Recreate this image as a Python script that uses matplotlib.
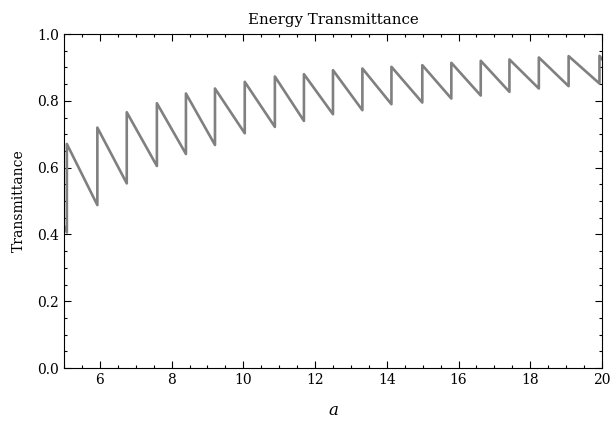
import matplotlib
matplotlib.use('Agg')
import matplotlib.pyplot as plt
from matplotlib.ticker import MultipleLocator

# values: each tooth falls to a trough, then jumps to a peak
jump_a = [5.08, 5.93, 6.75, 7.59, 8.40, 9.21, 10.04, 10.88, 11.69, 12.50,
          13.32, 14.13, 14.99, 15.80, 16.62, 17.42, 18.24, 19.07, 19.93]
trough_t = [0.406, 0.488, 0.553, 0.605, 0.641, 0.668, 0.703, 0.722, 0.740, 0.760,
            0.772, 0.790, 0.795, 0.807, 0.816, 0.827, 0.837, 0.844, 0.852]
peak_t = [0.671, 0.720, 0.766, 0.793, 0.822, 0.837, 0.857, 0.873, 0.880, 0.892,
          0.897, 0.902, 0.907, 0.914, 0.920, 0.924, 0.930, 0.934, 0.935]
start_a, start_t = 5.0, 0.425
end_a, end_t = 20.0, 0.925

a = [start_a]
t = [start_t]
for xj, lo, hi in zip(jump_a, trough_t, peak_t):
    a += [xj, xj]
    t += [lo, hi]
a.append(end_a)
t.append(end_t)

plt.rcParams['font.family'] = ['DejaVu Serif']
plt.rcParams['mathtext.fontset'] = 'dejavuserif'

fig = plt.figure(figsize=(6.13, 4.26), dpi=100)
ax = fig.add_axes([0.1044, 0.136, 0.8776, 0.784])

ax.plot(a, t, color='#808080', linewidth=1.9)

ax.set_xlim(5, 20)
ax.set_ylim(0, 1)
ax.xaxis.set_major_locator(MultipleLocator(2))
ax.xaxis.set_minor_locator(MultipleLocator(0.5))
ax.yaxis.set_major_locator(MultipleLocator(0.2))
ax.yaxis.set_minor_locator(MultipleLocator(0.05))
ax.tick_params(which='both', direction='in', top=True, right=True, labelsize=10)
ax.tick_params(which='major', length=5, width=0.8)
ax.tick_params(which='minor', length=2.5, width=0.8)

ax.set_title('Energy Transmittance', fontsize=10.8, pad=7)
ax.set_xlabel('$a$', fontsize=12, labelpad=11)
ax.set_ylabel('Transmittance', fontsize=10, labelpad=8)

plt.savefig('out.png', dpi=100)
